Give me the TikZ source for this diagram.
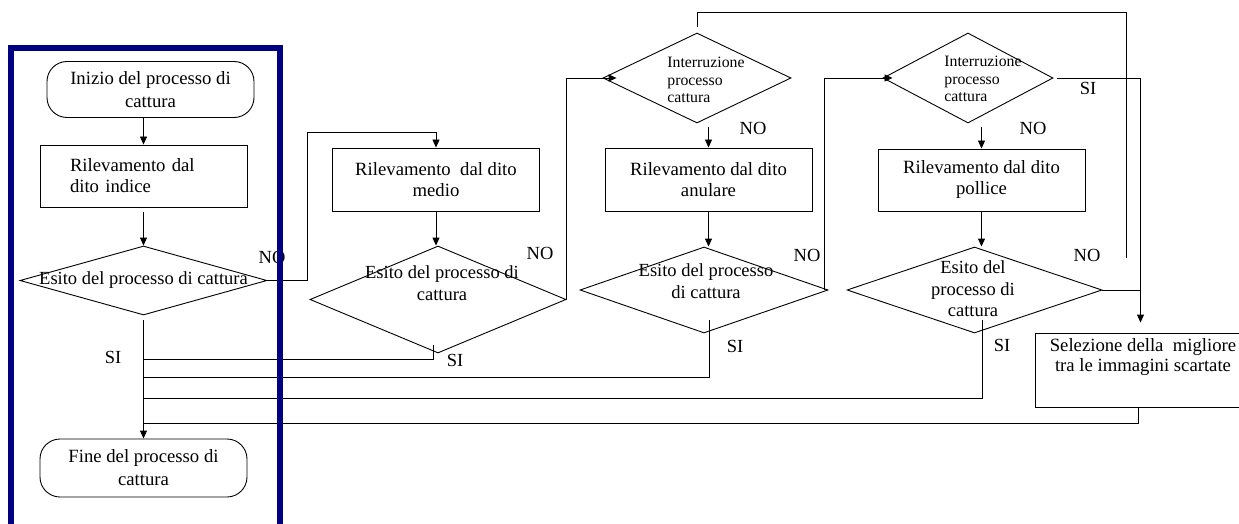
\documentclass[tikz,border=0pt]{standalone}
\usepackage{fontspec}
\setmainfont{Liberation Serif}
\usetikzlibrary{shapes.geometric, arrows.meta}
\definecolor{framenavy}{RGB}{0,0,128}
\tikzset{
    terminal/.style={draw, rounded corners=20pt, minimum width=207pt, minimum height=56pt, align=center, font=\fontsize{18.7}{23}\selectfont},
    process/.style={draw, minimum width=207pt, minimum height=62pt, align=center, font=\fontsize{18.7}{21}\selectfont},
    decision/.style={draw, diamond, inner sep=0pt},
    dtext/.style={align=center, inner sep=0pt, font=\fontsize{18.5}{22}\selectfont},
    smalltext/.style={align=left, inner sep=0pt, font=\fontsize{15.8}{17.5}\selectfont},
    answer/.style={inner sep=0pt, font=\fontsize{18.5}{20}\selectfont},
    arrowline/.style={-{Triangle[length=8pt,width=7pt]}}
}

\begin{document}
\begin{tikzpicture}[x=1pt, y=-1pt, line width=0.9pt]
            \useasboundingbox (0,0) rectangle (1239,524);

            % Dito indice
            \node[terminal] (inizio) at (150.5,89.5) {Inizio del processo di\\cattura};
            \node[process, align=left, text width=147pt] (indice) at (143.5,176) {Rilevamento dal\\dito indice};
            \node[decision, minimum width=247pt, minimum height=69pt] (esito1) at (143.5,280.5) {};
            \node[dtext] (esito1t) at (esito1) {Esito del processo di cattura};
            \node[terminal, minimum height=58pt] (fine) at (143.5,468) {Fine del processo di\\cattura};

            % Dito medio
            \node[process, minimum height=63pt] (medio) at (436,179.5) {Rilevamento\ \ dal dito\\medio};
            \node[decision, minimum width=256pt, minimum height=107pt] (esito2) at (438,299.5) {};
            \node[dtext] (esito2t) at (442,283) {Esito del processo di\\cattura};

            % Dito anulare
            \node[decision, minimum width=188pt, minimum height=90pt] (interr3) at (697,78) {};
            \node[smalltext] (interr3t) at (706,80) {Interruzione\\processo\\cattura};
            \node[process, minimum height=63pt] (anulare) at (708.5,179.5) {Rilevamento dal dito\\anulare};
            \node[decision, minimum width=248pt, minimum height=86pt] (esito3) at (704,290) {};
            \node[dtext] (esito3t) at (706,281) {Esito del processo\\di cattura};

            % Dito pollice
            \node[decision, minimum width=170pt, minimum height=90pt] (interr4) at (968,78) {};
            \node[smalltext] (interr4t) at (983,79) {Interruzione\\processo\\cattura};
            \node[process] (pollice) at (981.5,180) {Rilevamento dal dito\\pollice};
            \node[decision, minimum width=255pt, minimum height=86pt] (esito4) at (974.5,290) {};
            \node[dtext, font=\fontsize{18.5}{21.5}\selectfont] (esito4t) at (973,289) {Esito del\\processo di\\cattura};

            % Immagini scartate
            \node[process, minimum width=215pt, minimum height=74pt] (selez) at (1142.5,370) {};
            \node[dtext, font=\fontsize{18.7}{20}\selectfont] (selezt) at (1143,357) {Selezione della\ \ migliore\\tra le immagini scartate};

            % Risposte
            \node[answer] (no1) at (272,257) {NO};
            \node[answer] (si1) at (113,357) {SI};
            \node[answer] (no2) at (540,253) {NO};
            \node[answer] (si2) at (455,360) {SI};
            \node[answer] (no3a) at (753,128) {NO};
            \node[answer] (no3) at (807,255) {NO};
            \node[answer] (si3) at (735,346) {SI};
            \node[answer] (no4a) at (1033,128) {NO};
            \node[answer] (si4a) at (1088,88) {SI};
            \node[answer] (no4) at (1087,255) {NO};
            \node[answer] (si4) at (1002,345) {SI};

            % Collegamenti verticali
            \draw[arrowline] (indice.north |- inizio.south) -- (indice.north);
            \draw[arrowline] ([yshift=-5pt]indice.south) -- (esito1.north);
            \draw[arrowline] ([yshift=-5pt]esito1.south) -- (fine.north);
            \draw[arrowline] (medio.south) -- (medio.south |- esito2.north);
            \draw[arrowline] ([yshift=-4pt]anulare.north |- interr3.south) -- (anulare.north);
            \draw[arrowline] (anulare.south) -- (anulare.south |- esito3.north);
            \draw[arrowline] ([yshift=-4pt]pollice.north |- interr4.south) -- (pollice.north);
            \draw[arrowline] (pollice.south) -- (pollice.south |- esito4.north);

            % Rami NO
            \draw[arrowline] (esito1.east) -- ++(40,0) |- ([yshift=15pt]medio.north) -- (medio.north);
            \draw[arrowline] (esito2.east) |- ([xshift=14pt]interr3.west);
            \draw[arrowline] ([xshift=-4pt]esito3.east) |- ([xshift=10pt]interr4.west);
            \draw (esito4.east) -- ([xshift=-2pt]selez.north |- esito4.east);
            \coordinate (back) at (1126,258);
            \draw (back) |- ([yshift=20pt]interr3.north) -- ([yshift=6pt]interr3.north);
            \draw[arrowline] ([xshift=4pt]interr4.east) -| ([xshift=-2pt,yshift=10pt]selez.north);

            % Rami SI
            \draw ([xshift=-5pt,yshift=8pt]esito2.south) |- (fine.north |- 0,359);
            \draw ([xshift=5pt,yshift=13pt]esito3.south) |- (fine.north |- 0,377);
            \draw ([xshift=7.5pt,yshift=13pt]esito4.south) |- (fine.north |- 0,398);
            \draw ([xshift=-4pt]selez.south) |- (fine.north |- 0,423);

            % Cornice
            \draw[line width=6pt, framenavy] (11,48) rectangle (280,527);
\end{tikzpicture}
\end{document}
